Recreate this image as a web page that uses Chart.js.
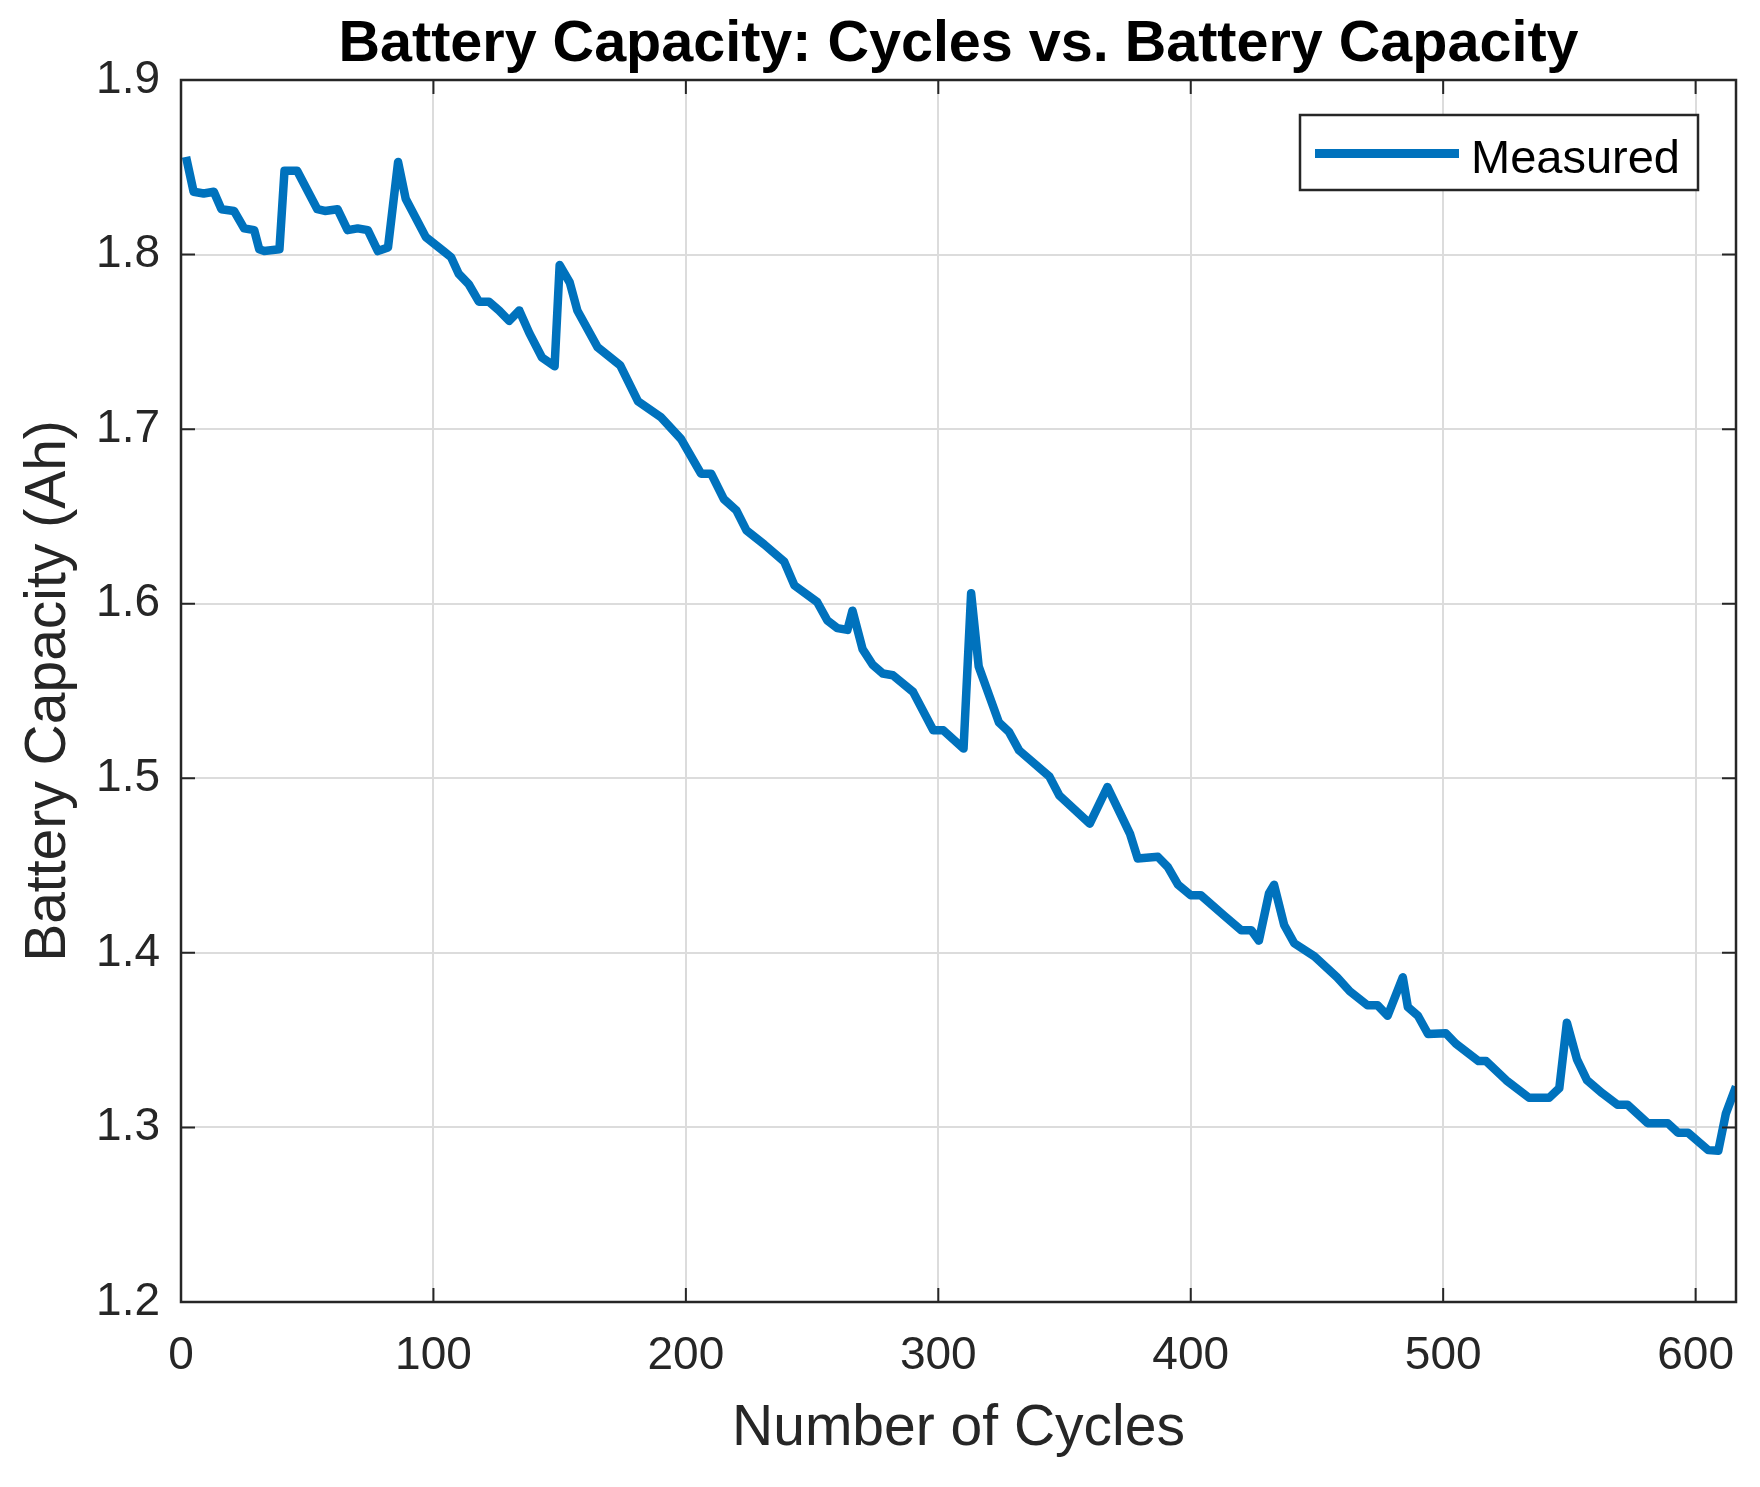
<!DOCTYPE html>
<html>
<head>
<meta charset="utf-8">
<title>Battery Capacity</title>
<script src="https://cdn.jsdelivr.net/npm/chart.js@4.4.1/dist/chart.umd.min.js"></script>
<style>
    html, body { margin: 0; padding: 0; background: #fff; }
    canvas { display: block; }
</style>
</head>
<body>
<canvas id="capacityChart" width="1760" height="1487"></canvas>
<script>
// values
const cycles = [
    2, 5, 9, 13, 16, 21, 25, 29, 31, 33, 39, 41, 46, 54, 57, 62, 66, 70, 74, 78,
    82, 86, 89, 97, 104, 107, 110, 114, 118, 122, 126, 130, 134, 138, 143, 148, 150, 154, 157, 165,
    174, 181, 190, 198, 206, 210, 215, 220, 224, 231, 239, 243, 252, 256, 260, 264, 266, 270, 274, 278,
    282, 290, 298, 302, 310, 313, 316, 324, 328, 332, 344, 348, 360, 367, 372, 376, 379, 387, 391, 395,
    400, 404, 413, 420, 424, 427, 431, 433, 437, 441, 449, 458, 463, 470, 474, 478, 481, 484, 486, 490,
    494, 501, 505, 514, 517, 525, 534, 542, 546, 549, 553, 557, 563, 569, 573, 581, 589, 593, 597, 605,
    609, 612, 616
];
const capacity = [
    1.856, 1.836, 1.835, 1.836, 1.826, 1.825, 1.815, 1.814, 1.803, 1.802, 1.803, 1.848, 1.848, 1.826, 1.825, 1.826, 1.814, 1.815, 1.814, 1.802,
    1.804, 1.853, 1.832, 1.810, 1.802, 1.7985, 1.789, 1.783, 1.773, 1.773, 1.768, 1.762, 1.768, 1.755, 1.741, 1.736, 1.794, 1.784, 1.768, 1.747,
    1.7365, 1.716, 1.707, 1.6945, 1.6745, 1.6745, 1.660, 1.6535, 1.642, 1.634, 1.624, 1.6105, 1.601, 1.5905, 1.586, 1.585, 1.596, 1.574, 1.565, 1.560,
    1.559, 1.5495, 1.5275, 1.5275, 1.517, 1.606, 1.564, 1.532, 1.5266, 1.516, 1.501, 1.490, 1.474, 1.495, 1.480, 1.468, 1.454, 1.455, 1.449, 1.439,
    1.433, 1.433, 1.4216, 1.413, 1.413, 1.407, 1.434, 1.439, 1.416, 1.4055, 1.398, 1.386, 1.378, 1.370, 1.370, 1.364, 1.375, 1.386, 1.369, 1.364,
    1.3535, 1.354, 1.348, 1.338, 1.338, 1.327, 1.317, 1.317, 1.3225, 1.360, 1.339, 1.327, 1.3196, 1.313, 1.313, 1.3024, 1.3024, 1.297, 1.297, 1.287,
    1.2867, 1.308, 1.3234
];
const xTicks = [0, 100, 200, 300, 400, 500, 600];
const yTicks = [1.2, 1.3, 1.4, 1.5, 1.6, 1.7, 1.8, 1.9];
const yTickLabels = ['1.2', '1.3', '1.4', '1.5', '1.6', '1.7', '1.8', '1.9'];

const axisColor = '#262626';
const lineColor = '#0072BD';

Chart.defaults.font.family = '"Liberation Sans", Arial, Helvetica, sans-serif';
Chart.defaults.color = axisColor;

// box around the axes with inward tick marks on all four sides
const framePlugin = {
    id: 'frame',
    afterDatasetsDraw(chart) {
        const { ctx, chartArea: a, scales: { x, y } } = chart;
        const tickLen = 14;
        ctx.save();
        ctx.strokeStyle = axisColor;
        ctx.lineWidth = 2;
        ctx.beginPath();
        xTicks.forEach((v) => {
            const px = x.getPixelForValue(v);
            ctx.moveTo(px, a.bottom);
            ctx.lineTo(px, a.bottom - tickLen);
            ctx.moveTo(px, a.top);
            ctx.lineTo(px, a.top + tickLen);
        });
        yTicks.forEach((v) => {
            const py = y.getPixelForValue(v);
            ctx.moveTo(a.left, py);
            ctx.lineTo(a.left + tickLen, py);
            ctx.moveTo(a.right, py);
            ctx.lineTo(a.right - tickLen, py);
        });
        ctx.stroke();
        ctx.lineWidth = 2.5;
        ctx.strokeRect(a.left, a.top, a.right - a.left, a.bottom - a.top);
        ctx.restore();
    }
};

// legend drawn inside the axes, top right
const boxLegend = {
    id: 'boxLegend',
    afterDraw(chart) {
        const { ctx, chartArea: a } = chart;
        const ds = chart.data.datasets[0];
        const w = 398, h = 75;
        const left = a.right - 38 - w;
        const top = a.top + 35;
        ctx.save();
        ctx.fillStyle = '#fff';
        ctx.fillRect(left, top, w, h);
        ctx.strokeStyle = axisColor;
        ctx.lineWidth = 2.5;
        ctx.strokeRect(left, top, w, h);

        ctx.strokeStyle = ds.borderColor;
        ctx.lineWidth = 9;
        ctx.beginPath();
        ctx.moveTo(left + 15, top + 38.5);
        ctx.lineTo(left + 159, top + 38.5);
        ctx.stroke();

        ctx.fillStyle = '#000';
        ctx.font = '47px "Liberation Sans", Arial, sans-serif';
        ctx.textBaseline = 'alphabetic';
        ctx.textAlign = 'left';
        ctx.fillText(ds.label, left + 171, top + 57.5);
        ctx.restore();
    }
};

const ctx = document.getElementById('capacityChart');

new Chart(ctx, {
    type: 'line',
    data: {
        datasets: [{
            label: 'Measured',
            data: cycles.map((c, i) => ({ x: c, y: capacity[i] })),
            borderColor: lineColor,
            backgroundColor: lineColor,
            borderWidth: 8.5,
            borderJoinStyle: 'round',
            borderCapStyle: 'butt',
            pointRadius: 0,
            tension: 0,
            fill: false
        }]
    },
    options: {
        responsive: false,
        animation: false,
        devicePixelRatio: 1,
        layout: {
            padding: { left: 0, right: 24, top: 0, bottom: 0 }
        },
        plugins: {
            legend: { display: false },
            tooltip: { enabled: false },
            title: {
                display: true,
                text: 'Battery Capacity: Cycles vs. Battery Capacity',
                color: '#000',
                fullSize: false,
                font: { size: 57.5, weight: 'bold', lineHeight: 1.2 },
                padding: { top: 11, bottom: 0 }
            }
        },
        scales: {
            x: {
                type: 'linear',
                min: 0,
                max: 616,
                afterBuildTicks: (scale) => {
                    scale.ticks = xTicks.map((v) => ({ value: v }));
                },
                afterFit: (scale) => {
                    scale.height = 185;
                    scale.paddingLeft = 0;
                    scale.paddingRight = 0;
                },
                ticks: {
                    font: { size: 46 },
                    color: axisColor,
                    padding: 27,
                    maxRotation: 0,
                    autoSkip: false
                },
                grid: {
                    color: '#dcdcdc',
                    lineWidth: 2,
                    drawTicks: false
                },
                border: { display: false },
                title: {
                    display: true,
                    text: 'Number of Cycles',
                    color: axisColor,
                    font: { size: 57, lineHeight: 1.2 },
                    padding: { top: 0, bottom: 24 }
                }
            },
            y: {
                min: 1.2,
                max: 1.9,
                afterBuildTicks: (scale) => {
                    scale.ticks = yTicks.map((v) => ({ value: v }));
                },
                afterFit: (scale) => {
                    scale.width = 181;
                    scale.paddingTop = 0;
                    scale.paddingBottom = 0;
                },
                ticks: {
                    font: { size: 46 },
                    color: axisColor,
                    padding: 21,
                    autoSkip: false,
                    callback: (value, index) => yTickLabels[index]
                },
                grid: {
                    color: '#dcdcdc',
                    lineWidth: 2,
                    drawTicks: false
                },
                border: { display: false },
                title: {
                    display: true,
                    text: 'Battery Capacity (Ah)',
                    color: axisColor,
                    font: { size: 57, lineHeight: 1.2 },
                    padding: { top: 15, bottom: 0 }
                }
            }
        }
    },
    plugins: [framePlugin, boxLegend]
});
</script>
</body>
</html>
